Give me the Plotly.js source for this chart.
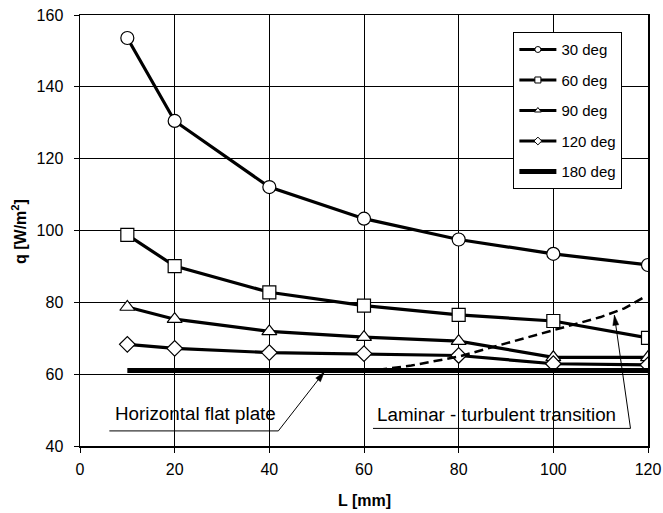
<!DOCTYPE html>
<html>
<head>
<meta charset="utf-8">
<script src="https://cdn.plot.ly/plotly-3.0.1.min.js"></script>
<style>html,body{margin:0;padding:0;background:#fff;}#chart{width:663px;height:513px;}</style>
</head>
<body>
<div id="chart"></div>
<script>
// Data
const L = [10, 20, 40, 60, 80, 100, 120];
const q30 = [153.6, 130.5, 112.1, 103.3, 97.5, 93.5, 90.4];
const q60 = [98.8, 90.1, 82.8, 79.1, 76.5, 74.8, 70.1];
const q90 = [78.7, 75.3, 71.9, 70.3, 69.2, 64.7, 64.7];
const q120 = [68.3, 67.2, 66.0, 65.7, 65.2, 62.9, 62.6];
const q180 = [61.0, 61.0, 61.0, 61.0, 61.0, 61.0, 61.0];
const transL = [63, 70, 80, 90, 100, 110, 115, 119.5];
const transQ = [61.2, 62.4, 64.9, 68.6, 72.3, 75.9, 78.3, 81.7];
const seriesNames = ['30 deg', '60 deg', '90 deg', '120 deg', '180 deg'];
const xTicks = [0, 20, 40, 60, 80, 100, 120];
const yTicks = [40, 60, 80, 100, 120, 140, 160];

const FONT = 'Liberation Sans, Arial, sans-serif';
const W = 663, H = 513;
const M = {l: 80, r: 15, t: 15, b: 67};
const XR = [0, 120], YR = [40, 160];
const pxX = (W - M.l - M.r) / (XR[1] - XR[0]);
const pxY = (H - M.t - M.b) / (YR[1] - YR[0]);

const seriesY = [q30, q60, q90, q120, q180];
const symbols = ['circle', 'square', 'triangle-up', 'diamond', null];
const msizes = [13, 13, 13, 12, 0];

function makeTrace(xs, ys, i, legendOnly) {
  const isFlat = symbols[i] === null;
  const t = {
    x: xs, y: ys, type: 'scatter',
    mode: isFlat ? 'lines' : 'lines+markers',
    name: seriesNames[i],
    line: {color: '#000', width: isFlat ? 5 : 3.2}
  };
  if (!isFlat) {
    t.marker = {symbol: symbols[i], size: legendOnly ? 6 : msizes[i], color: '#fff',
                line: {color: '#000', width: legendOnly ? 1 : 1.2}};
  }
  if (legendOnly) { t.legendgroup = 'g' + i; } else { t.showlegend = false; }
  return t;
}

const traces = [];
seriesY.forEach((ys, i) => traces.push(makeTrace(L, ys, i, false)));
traces.push({
  x: transL, y: transQ, type: 'scatter', mode: 'lines', showlegend: false,
  line: {color: '#000', width: 2.5, dash: '9px,5px'}
});
// legend entries (smaller markers as in the reference legend)
seriesY.forEach((ys, i) => traces.push(makeTrace([null], [null], i, true)));

// callout: underline + leader line + arrowhead
function callout(ux0, ux1, uy, tx, ty) {
  const line = {color: '#000', width: 1};
  const shapes = [
    {type: 'line', xref: 'x', yref: 'y', x0: ux0, y0: uy, x1: ux1, y1: uy, line: line},
    {type: 'line', xref: 'x', yref: 'y', x0: ux1, y0: uy, x1: tx, y1: ty, line: line}
  ];
  const dx = (tx - ux1) * pxX, dy = (ty - uy) * pxY;
  const len = Math.hypot(dx, dy), ux = dx / len, uyv = dy / len;
  const hl = 10, hw = 3;
  const bx = -ux * hl, by = -uyv * hl;
  const p1 = [bx - uyv * hw, by + ux * hw], p2 = [bx + uyv * hw, by - ux * hw];
  const toD = p => [tx + p[0] / pxX, ty + p[1] / pxY];
  const a = toD(p1), b = toD(p2);
  shapes.push({type: 'path', xref: 'x', yref: 'y',
    path: `M${tx},${ty} L${a[0]},${a[1]} L${b[0]},${b[1]} Z`,
    fillcolor: '#000', line: {color: '#000', width: 0.5}});
  return shapes;
}

const plotH = H - M.t - M.b;
const layout = {
  width: W, height: H,
  margin: M,
  paper_bgcolor: '#fff', plot_bgcolor: '#fff',
  font: {family: FONT, size: 15, color: '#000'},
  showlegend: true,
  legend: {
    x: 0.763, y: 0.96, xanchor: 'left', yanchor: 'top',
    bgcolor: '#fff', bordercolor: '#000', borderwidth: 1,
    font: {family: FONT, size: 15, color: '#000'},
    traceorder: 'grouped', tracegroupgap: 8, itemwidth: 37
  },
  xaxis: {
    range: XR, tickvals: xTicks, ticktext: xTicks.map(String),
    showgrid: true, gridcolor: '#000', gridwidth: 1, zeroline: false,
    showline: true, linecolor: '#000', linewidth: 1.5, mirror: true,
    ticks: 'outside', ticklen: 5, tickcolor: '#000', tickwidth: 1,
    ticklabelstandoff: 3,
    tickfont: {family: FONT, size: 16, color: '#000'}
  },
  yaxis: {
    range: YR, tickvals: yTicks, ticktext: yTicks.map(String),
    showgrid: true, gridcolor: '#000', gridwidth: 1, zeroline: false,
    showline: true, linecolor: '#000', linewidth: 1.5, mirror: true,
    ticks: 'outside', ticklen: 5, tickcolor: '#000', tickwidth: 1,
    ticklabelstandoff: 7,
    tickfont: {family: FONT, size: 16, color: '#000'}
  },
  shapes: [].concat(
    callout(6.2, 41.9, 44.2, 51.6, 60.6),
    callout(61.9, 116.3, 44.9, 112.9, 76.4)
  ),
  annotations: [
    {x: (19 - M.l) / (W - M.l - M.r), y: (H - M.b - 232) / plotH, xref: 'paper', yref: 'paper',
     text: '<b>q [W/m<sup>2</sup>]</b>', textangle: -90, showarrow: false,
     xanchor: 'center', yanchor: 'middle', font: {family: FONT, size: 16, color: '#000'}},
    {x: 0.5, y: (H - M.b - 501) / plotH, xref: 'paper', yref: 'paper',
     text: '<b>L [mm]</b>', showarrow: false,
     xanchor: 'center', yanchor: 'middle', font: {family: FONT, size: 16, color: '#000'}},
    {x: 24.5, y: 49.1, xref: 'x', yref: 'y', text: 'Horizontal flat plate', showarrow: false,
     xanchor: 'center', yanchor: 'middle', font: {family: FONT, size: 18.8, color: '#000'}},
    {x: 88.0, y: 48.8, xref: 'x', yref: 'y', text: 'Laminar - turbulent transition', showarrow: false,
     xanchor: 'center', yanchor: 'middle', font: {family: FONT, size: 18.8, color: '#000'}}
  ]
};

Plotly.newPlot('chart', traces, layout, {displayModeBar: false, staticPlot: true});
</script>
</body>
</html>
